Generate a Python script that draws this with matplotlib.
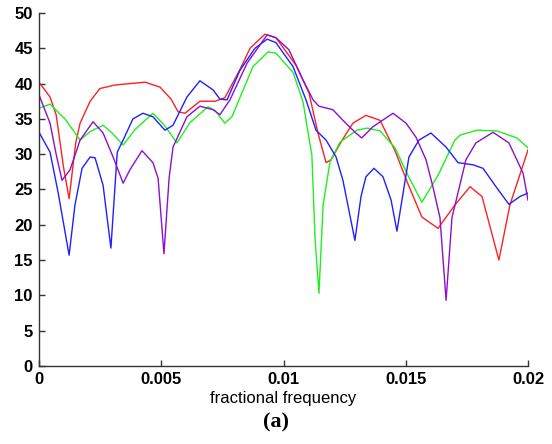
import matplotlib.pyplot as plt

# frequency axis positions are given in units of 1e-3 (fractional frequency)
f_red = [0, 0.45, 0.7, 1.0, 1.23, 1.5, 1.68, 2.09, 2.49, 3.1, 3.72, 4.34, 4.95, 5.4,
         5.69, 5.97, 6.58, 7.2, 7.6, 8.22, 8.63, 9.24, 9.69, 10.51, 11.04, 11.41,
         11.74, 11.94, 12.4, 12.84, 13.37, 13.95, 14.56, 15.09, 15.66, 16.32, 17.01,
         17.63, 18.12, 18.81, 19.26, 20.0]
db_red = [40.2, 38.1, 35.6, 28.2, 23.7, 31.6, 34.4, 37.5, 39.3, 39.8, 40.0, 40.2, 39.5, 37.8,
          36.0, 35.8, 37.5, 37.5, 38.0, 42.0, 45.0, 47.0, 46.5, 42.6, 38.7, 33.0,
          28.8, 29.2, 32.0, 34.4, 35.5, 34.8, 30.5, 25.8, 21.1, 19.5, 22.8,
          25.4, 24.0, 15.0, 22.8, 30.6]

f_green = [0, 0.45, 1.06, 1.68, 2.09, 2.62, 2.99, 3.44, 3.93, 4.66, 5.15, 5.64, 6.18, 6.91,
           7.2, 7.6, 7.89, 8.75, 9.37, 9.69, 10.39, 10.8, 11.04, 11.16, 11.29, 11.45,
           11.62, 11.9, 12.31, 13.0, 13.42, 13.95, 14.56, 15.09, 15.66, 16.32, 17.01,
           17.22, 17.91, 18.73, 19.55, 20.0]
db_green = [36.5, 37.1, 35.0, 32.0, 33.2, 34.1, 33.0, 31.3, 33.5, 35.8, 34.0, 31.6, 34.5, 36.7,
            36.2, 34.4, 35.3, 42.4, 44.5, 44.3, 41.6, 37.4, 32.3, 29.9, 18.1, 10.3,
            22.8, 28.9, 31.7, 33.4, 33.7, 33.3, 30.9, 27.0, 23.2, 27.0, 32.0,
            32.7, 33.4, 33.3, 32.3, 30.9]

f_blue = [0, 0.45, 0.78, 1.23, 1.47, 1.76, 2.09, 2.29, 2.62, 2.94, 3.2, 3.44, 3.84, 4.25,
          4.66, 5.15, 5.48, 6.05, 6.58, 7.12, 7.4, 7.69, 8.22, 8.83, 9.33, 9.69,
          10.39, 10.92, 11.33, 11.74, 12.15, 12.43, 12.92, 13.17, 13.37, 13.7, 14.07,
          14.4, 14.64, 15.13, 15.54, 16.03, 16.65, 17.14, 17.75, 18.16, 18.69, 19.22,
          19.67, 20.0]
db_blue = [33.1, 30.3, 24.6, 15.7, 22.8, 28.0, 29.6, 29.5, 25.6, 16.7, 30.3, 32.0, 35.0, 35.8,
           35.3, 33.4, 34.1, 38.1, 40.4, 39.1, 37.8, 37.7, 41.9, 45.0, 46.3, 45.8,
           42.4, 37.7, 33.4, 32.0, 29.6, 26.3, 17.8, 24.0, 26.8, 28.0, 26.8,
           23.5, 19.1, 29.6, 32.0, 33.0, 31.0, 28.8, 28.5, 28.0, 25.4, 22.9,
           24.0, 24.5]

f_purple = [0, 0.45, 0.7, 0.94, 1.27, 1.68, 2.21, 2.62, 3.03, 3.44, 3.72, 4.21, 4.66, 4.87,
            5.11, 5.32, 5.48, 6.05, 6.58, 7.12, 7.4, 7.81, 8.51, 9.33, 9.69, 10.22,
            10.8, 11.21, 11.45, 12.02, 12.43, 12.96, 13.2, 13.66, 14.48, 15.01, 15.42,
            15.83, 16.11, 16.4, 16.65, 16.89, 17.26, 17.46, 17.87, 18.57, 19.22, 19.8,
            20.0]
db_purple = [38.4, 34.4, 30.0, 26.3, 27.8, 32.0, 34.6, 33.0, 29.6, 25.9, 27.8, 30.5, 28.8, 26.6,
             15.9, 26.6, 31.0, 35.3, 36.8, 36.3, 35.6, 37.7, 42.9, 46.9, 46.5, 44.8,
             40.5, 37.7, 36.8, 36.3, 34.8, 33.0, 32.3, 33.9, 35.8, 34.4, 32.4,
             29.2, 25.4, 21.0, 9.3, 21.0, 26.3, 29.2, 31.6, 33.1, 31.6, 27.3,
             23.5]

xticks = [0, 0.005, 0.01, 0.015, 0.02]
xtick_labels = ['0', '0.005', '0.01', '0.015', '0.02']
yticks = [0, 5, 10, 15, 20, 25, 30, 35, 40, 45, 50]

plt.rcParams['font.family'] = 'Liberation Sans'

fig = plt.figure(figsize=(5.52, 4.44), dpi=100)
ax = fig.add_axes([0.0707, 0.1757, 0.8858, 0.795])

series = [
    (f_red, db_red, '#ff2020'),
    (f_green, db_green, '#20ee20'),
    (f_blue, db_blue, '#2020ff'),
    (f_purple, db_purple, '#8c10cc'),
]
for f, db, c in series:
    ax.plot([v * 1e-3 for v in f], db, color=c, lw=1.0)

ax.set_xlim(0, 0.02)
ax.set_ylim(0, 50)
ax.set_xticks(xticks)
ax.set_xticklabels(xtick_labels)
ax.set_yticks(yticks)
ax.spines['top'].set_visible(False)
ax.spines['right'].set_visible(False)
for s in ['left', 'bottom']:
    ax.spines[s].set_color('#333333')
    ax.spines[s].set_linewidth(1.0)
ax.tick_params(direction='in', length=4, width=1, color='#333333', labelsize=12)
ax.tick_params(axis='x', pad=4)
ax.tick_params(axis='y', pad=4.5)
for lab in ax.get_xticklabels() + ax.get_yticklabels():
    lab.set_fontweight('bold')

ax.set_xlabel('fractional frequency', fontsize=12, labelpad=3)
fig.text(0.5, 0.048, '(a)', ha='center', va='center', fontsize=16,
         fontweight='bold', family='Liberation Serif')

fig.savefig('out.png', dpi=100)
